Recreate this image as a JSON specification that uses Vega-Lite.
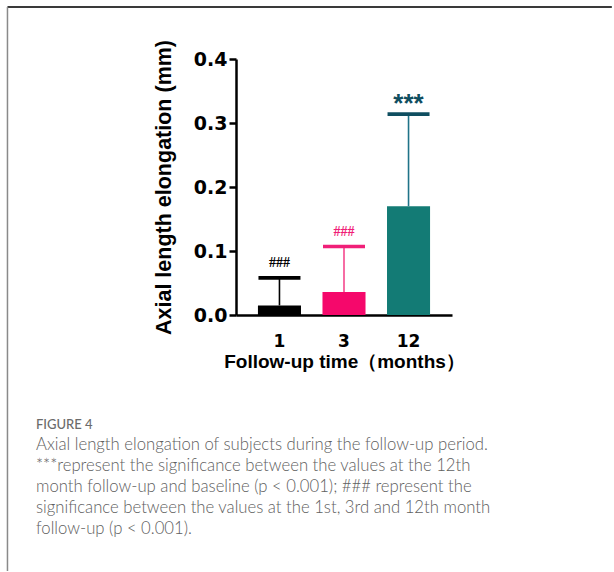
{
  "$schema": "https://vega.github.io/schema/vega-lite/v6.json",
  "autosize": {"type": "pad"},
  "padding": {"left": 6, "top": 6, "right": 0, "bottom": 0},
  "width": 216,
  "height": 256,
  "background": "white",
  "config": {"view": {"stroke": null}, "font": "Liberation Sans"},
  "title": {
    "text": "FIGURE 4",
    "subtitle": [
      "Axial length elongation of subjects during the follow-up period.",
      "***represent the significance between the values at the 12th",
      "month follow-up and baseline (p < 0.001); ### represent the",
      "significance between the values at the 1st, 3rd and 12th month",
      "follow-up (p < 0.001)."
    ],
    "orient": "bottom",
    "anchor": "start",
    "frame": "group",
    "dx": -200,
    "dy": -153,
    "offset": 0,
    "font": "Lato",
    "fontSize": 13,
    "fontWeight": 500,
    "color": "#6b6b6b",
    "subtitleFont": "Lato",
    "subtitleFontSize": 16.7,
    "subtitleFontWeight": 300,
    "subtitleColor": "#606060",
    "subtitleLineHeight": 21,
    "subtitlePadding": 5
  },
  "data": {
    "values": [
      {"month": "1", "mean": 0.015, "upper": 0.058, "label": "###"},
      {"month": "3", "mean": 0.036, "upper": 0.107, "label": "###"},
      {"month": "12", "mean": 0.170, "upper": 0.314, "label": "***"}
    ]
  },
  "resolve": {"scale": {"color": "independent", "x": "independent"}},
  "layer": [
    {
      "resolve": {"scale": {"color": "independent"}},
      "layer": [
        {
          "mark": {"type": "bar"},
          "encoding": {
            "x": {
              "field": "month", "type": "nominal", "sort": ["1", "3", "12"],
              "scale": {"paddingInner": 0.333, "paddingOuter": 0.34},
              "axis": {
                "title": "Follow-up time\uff08months\uff09",
                "labelAngle": 0, "ticks": false,
                "domainColor": "#000", "domainWidth": 2.5,
                "labelFont": "DejaVu Sans", "labelFontWeight": "bold", "labelFontSize": 17, "labelColor": "#000",
                "labelPadding": 18,
                "titleFont": "Liberation Sans", "titleFontWeight": "bold", "titleFontSize": 19, "titleColor": "#000",
                "titlePadding": 3
              }
            },
            "y": {
              "field": "mean", "type": "quantitative",
              "scale": {"domain": [0, 0.4], "nice": false},
              "axis": {
                "title": "Axial length elongation (mm)",
                "values": [0, 0.1, 0.2, 0.3, 0.4], "format": ".1f", "grid": false,
                "domainColor": "#000", "domainWidth": 2.5,
                "tickColor": "#000", "tickWidth": 2.5, "tickSize": 7,
                "labelFont": "DejaVu Sans", "labelFontWeight": "bold", "labelFontSize": 19, "labelColor": "#000",
                "labelPadding": 2,
                "titleFont": "Liberation Sans", "titleFontWeight": "bold", "titleFontSize": 21.5, "titleColor": "#000",
                "titlePadding": 18
              }
            },
            "color": {
              "field": "month", "type": "nominal", "legend": null,
              "scale": {"domain": ["1", "3", "12"], "range": ["#000000", "#f5086b", "#137b75"]}
            }
          }
        },
        {
          "mark": {"type": "rule", "strokeWidth": 1.6},
          "encoding": {
            "x": {"field": "month", "type": "nominal", "sort": ["1", "3", "12"]},
            "y": {"field": "mean", "type": "quantitative"},
            "y2": {"field": "upper"},
            "color": {
              "field": "month", "type": "nominal", "legend": null,
              "scale": {"domain": ["1", "3", "12"], "range": ["#000000", "#f4488d", "#1f7388"]}
            }
          }
        },
        {
          "mark": {"type": "tick", "thickness": 3.7, "size": 42, "opacity": 1},
          "encoding": {
            "x": {"field": "month", "type": "nominal", "sort": ["1", "3", "12"]},
            "y": {"field": "upper", "type": "quantitative"},
            "color": {
              "field": "month", "type": "nominal", "legend": null,
              "scale": {"domain": ["1", "3", "12"], "range": ["#000000", "#f01f78", "#0f4e60"]}
            }
          }
        },
        {
          "transform": [{"filter": "datum.label == '###'"}],
          "mark": {"type": "text", "font": "Liberation Serif", "fontWeight": "bold", "fontSize": 14, "baseline": "middle", "dy": -15},
          "encoding": {
            "x": {"field": "month", "type": "nominal", "sort": ["1", "3", "12"]},
            "y": {"field": "upper", "type": "quantitative"},
            "text": {"field": "label"},
            "color": {
              "field": "month", "type": "nominal", "legend": null,
              "scale": {"domain": ["1", "3"], "range": ["#000000", "#f01f78"]}
            }
          }
        },
        {
          "transform": [{"filter": "datum.label == '***'"}],
          "mark": {"type": "text", "font": "Liberation Sans", "fontWeight": "bold", "fontSize": 26, "baseline": "middle", "dy": -10, "color": "#0f4e60"},
          "encoding": {
            "x": {"field": "month", "type": "nominal", "sort": ["1", "3", "12"]},
            "y": {"field": "upper", "type": "quantitative"},
            "text": {"field": "label"}
          }
        }
      ]
    },
    {
      "data": {"values": [{"part": "top"}, {"part": "left"}]},
      "layer": [
        {
          "transform": [{"filter": "datum.part == 'top'"}],
          "mark": {"type": "rule", "color": "#3a3a3a", "strokeWidth": 2},
          "encoding": {
            "x": {"datum": -1.058, "type": "quantitative", "scale": {"domain": [0, 1], "nice": false, "zero": false}, "axis": null},
            "x2": {"datum": 1.74},
            "y": {"datum": 0.4812, "type": "quantitative"}
          }
        },
        {
          "transform": [{"filter": "datum.part == 'left'"}],
          "mark": {"type": "rule", "color": "#8a8a8a", "strokeWidth": 1.5},
          "encoding": {
            "x": {"datum": -1.058, "type": "quantitative", "scale": {"domain": [0, 1], "nice": false, "zero": false}, "axis": null},
            "y": {"datum": 0.4812, "type": "quantitative"},
            "y2": {"datum": -0.4}
          }
        }
      ]
    }
  ]
}
